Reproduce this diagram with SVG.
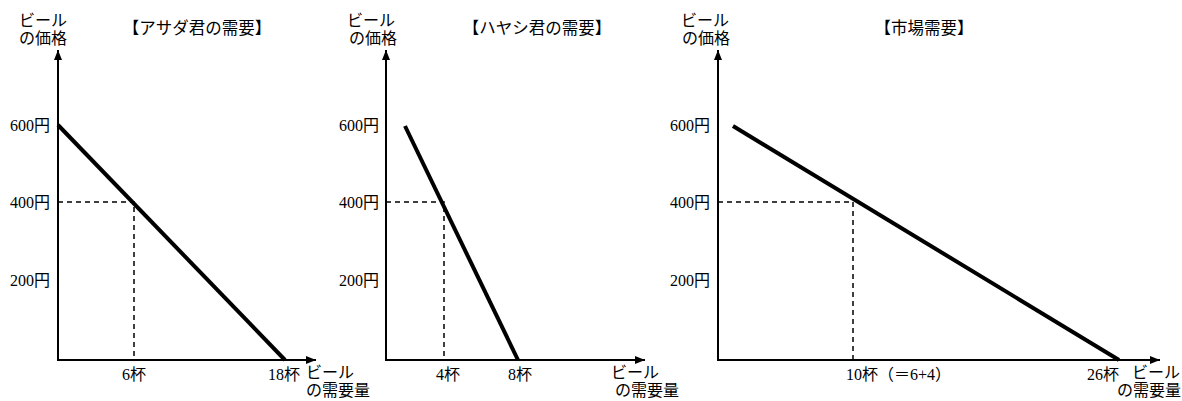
<svg xmlns="http://www.w3.org/2000/svg" width="1182" height="401" viewBox="0 0 1182 401">
<style>
.bg{fill:#fff}
.axis{stroke:#000;stroke-width:2;fill:none}
.dem{stroke:#000;stroke-width:4;fill:none;stroke-linecap:butt}
.dash{stroke:#000;stroke-width:1.5;stroke-dasharray:5 4;fill:none}
.jp{font-family:"Noto Sans CJK JP","Noto Sans",sans-serif;font-size:16px;fill:#000}
.ttl{font-family:"Noto Sans CJK JP","Noto Sans",sans-serif;font-size:16.5px;fill:#000;text-anchor:middle}
.num{font-family:"Liberation Serif","Noto Sans CJK JP",serif;font-size:16px;fill:#000}
.yl{text-anchor:end}
.xl{text-anchor:middle}
</style>
<defs>
<marker id="arr" viewBox="0 0 10 10" refX="10" refY="5" markerWidth="10" markerHeight="10" markerUnits="userSpaceOnUse" orient="auto">
<path d="M0,1 L10,5 L0,9 Z" fill="#000"/>
</marker>
</defs>
<rect class="bg" x="0" y="0" width="1182" height="401"/>

<g id="panel1">
<text class="ttl" x="197" y="34">【アサダ君の需要】</text>
<text class="jp"><tspan x="19" y="26">ビール</tspan><tspan x="19" y="44">の価格</tspan></text>
<text class="num yl" x="50" y="131">600円</text>
<text class="num yl" x="50" y="208">400円</text>
<text class="num yl" x="50" y="286">200円</text>
<text class="num xl" x="134" y="380">6杯</text>
<text class="num xl" x="284" y="380">18杯</text>
<text class="jp"><tspan x="306" y="378">ビール</tspan><tspan x="306" y="396">の需要量</tspan></text>
</g>

<g id="panel2">
<text class="ttl" x="537" y="34">【ハヤシ君の需要】</text>
<text class="jp"><tspan x="347" y="26">ビール</tspan><tspan x="349" y="44">の価格</tspan></text>
<text class="num yl" x="379" y="131">600円</text>
<text class="num yl" x="379" y="208">400円</text>
<text class="num yl" x="379" y="286">200円</text>
<text class="num xl" x="448" y="380">4杯</text>
<text class="num xl" x="520" y="380">8杯</text>
<text class="jp"><tspan x="611" y="378">ビール</tspan><tspan x="615" y="396">の需要量</tspan></text>
</g>

<g id="panel3">
<text class="ttl" x="924" y="34">【市場需要】</text>
<text class="jp"><tspan x="681" y="26">ビール</tspan><tspan x="682" y="44">の価格</tspan></text>
<text class="num yl" x="710" y="131">600円</text>
<text class="num yl" x="710" y="208">400円</text>
<text class="num yl" x="710" y="286">200円</text>
<text class="num" x="846" y="380">10杯（＝6+4）</text>
<text class="num xl" x="1103" y="380">26杯</text>
<text class="jp"><tspan x="1132" y="378">ビール</tspan><tspan x="1117" y="396">の需要量</tspan></text>
</g>

<g id="connectors">
<line class="axis" x1="58" y1="361" x2="58" y2="50" marker-end="url(#arr)"/>
<line class="axis" x1="57" y1="360" x2="316" y2="360" marker-end="url(#arr)"/>
<line class="dem" x1="58" y1="125" x2="285" y2="360"/>
<polyline class="dash" points="58,202 134,202 134,360"/>

<line class="axis" x1="386" y1="361" x2="386" y2="50" marker-end="url(#arr)"/>
<line class="axis" x1="385" y1="360" x2="645" y2="360" marker-end="url(#arr)"/>
<line class="dem" x1="405" y1="126" x2="518" y2="360"/>
<polyline class="dash" points="386,202 444,202 444,360"/>

<line class="axis" x1="718" y1="361" x2="718" y2="50" marker-end="url(#arr)"/>
<line class="axis" x1="717" y1="360" x2="1160" y2="360" marker-end="url(#arr)"/>
<line class="dem" x1="733" y1="126" x2="1119" y2="360"/>
<polyline class="dash" points="718,202 853,202 853,360"/>
</g>
</svg>
